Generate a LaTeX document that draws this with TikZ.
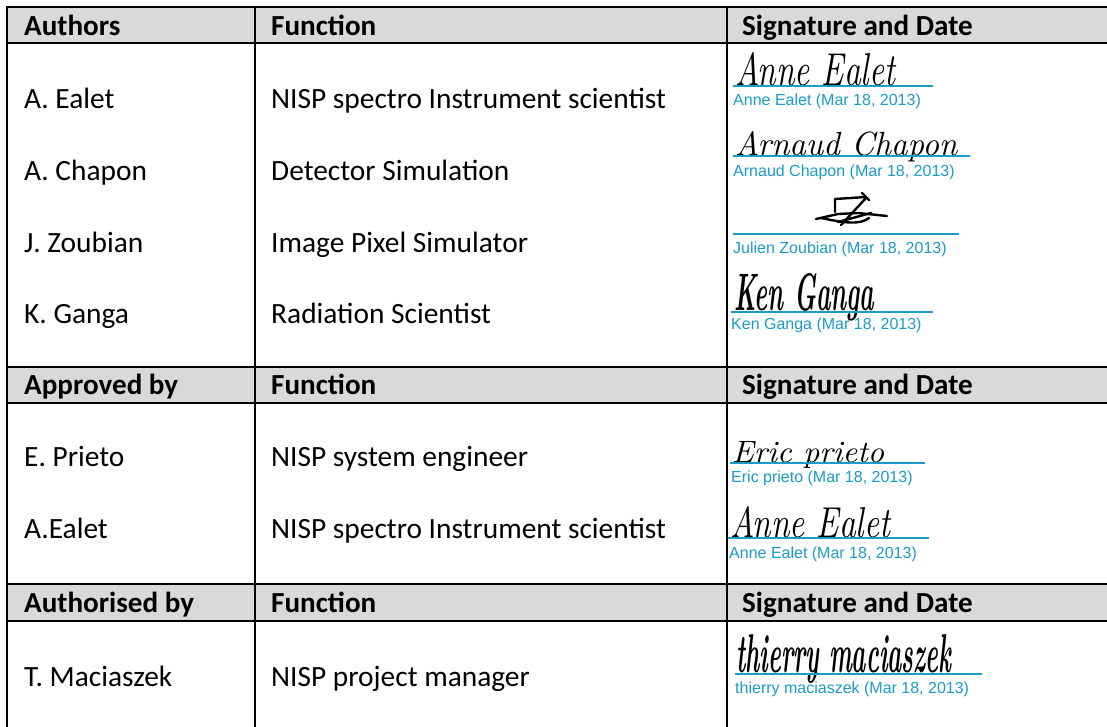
\documentclass[tikz,border=0pt]{standalone}
\usepackage{fontspec}
\newfontfamily\calibri{Carlito}
\newfontfamily\arialf{Liberation Sans}
\definecolor{sigblue}{HTML}{1A9BCB}
\definecolor{hdrgrey}{HTML}{D9D9D9}
\begin{document}
\begin{tikzpicture}[x=1pt,y=-1pt,
  hdr/.style={anchor=base west, inner sep=0pt, font=\calibri\bfseries\fontsize{29.1}{34}\selectfont},
  cell/.style={anchor=base west, inner sep=0pt, font=\calibri\fontsize{29.4}{34}\selectfont},
  captxt/.style={anchor=base west, inner sep=0pt, text=sigblue, font=\arialf\fontsize{16}{19}\selectfont},
  sig/.style={anchor=base west, inner sep=0pt, font=\rmfamily\itshape},
  sigbold/.style={anchor=base west, inner sep=0pt, font=\rmfamily\bfseries\itshape},
  uline/.style={draw=sigblue, line width=2.5pt},
  grid/.style={line width=2pt},
  ink/.style={line width=2.4pt, line cap=round, line join=round}]
\useasboundingbox (0,0) rectangle (1107,726);
% header fills
\fill[hdrgrey] (7,7) rectangle (1107,43);
\fill[hdrgrey] (7,367) rectangle (1107,403);
\fill[hdrgrey] (7,584) rectangle (1107,621);
% grid
\foreach \yy in {7,43,367,403,584,621} \draw[grid] (6,\yy) -- (1108,\yy);
\foreach \xx in {7,255,727} \draw[grid] (\xx,6) -- (\xx,727);
% headers
\node[hdr] (h1a) at (24,35) {Authors};
\node[hdr] (h1b) at (271,35) {Function};
\node[hdr] (h1c) at (742,35) {Signature and Date};
\node[hdr] (h2a) at (24,394) {Approved by};
\node[hdr] (h2b) at (271,394) {Function};
\node[hdr] (h2c) at (742,394) {Signature and Date};
\node[hdr] (h3a) at (24,612) {Authorised by};
\node[hdr] (h3b) at (271,612) {Function};
\node[hdr] (h3c) at (742,612) {Signature and Date};
% cells
\node[cell] (n1) at (24,108) {A. Ealet};
\node[cell] (f1) at (271,108) {NISP spectro Instrument scientist};
\node[cell] (n2) at (24,180) {A. Chapon};
\node[cell] (f2) at (271,180) {Detector Simulation};
\node[cell] (n3) at (24,252) {J. Zoubian};
\node[cell] (f3) at (271,252) {Image Pixel Simulator};
\node[cell] (n4) at (24,323) {K. Ganga};
\node[cell] (f4) at (271,323) {Radiation Scientist};
\node[cell] (n5) at (24,466) {E. Prieto};
\node[cell] (f5) at (271,466) {NISP system engineer};
\node[cell] (n6) at (24,538) {A.Ealet};
\node[cell] (f6) at (271,538) {NISP spectro Instrument scientist};
\node[cell] (n7) at (24,686) {T. Maciaszek};
\node[cell] (f7) at (271,686) {NISP project manager};
% signatures (handwriting)
\node[sig] (s1) at (735,85) {\resizebox{160pt}{33pt}{Anne Ealet}};
\node[sig] (s2) at (735,155) {\resizebox{222pt}{24pt}{Arnaud Chapon}};
\draw[ink] (835,212) -- (835,199) -- (866,197);
\draw[ink] (862,193) -- (869,200);
\draw[ink] (866,198) -- (841,225);
\draw[ink] (816,219) -- (838,214) -- (858,213) -- (887,216);
\draw[ink] (821,218) .. controls (845,223) and (860,225) .. (869,218);
\draw[ink] (838,222) -- (871,213);
\node[sigbold] (s4) at (734,310) {\resizebox{140pt}{37pt}{Ken Ganga}};
\node[sig] (s5) at (732,462) {\resizebox{152pt}{21pt}{Eric prieto}};
\node[sig] (s6) at (730,537) {\resizebox{160pt}{31pt}{Anne Ealet}};
\node[sigbold] (s7) at (736,672) {\resizebox{215pt}{38pt}{thierry maciaszek}};
% underlines
\draw[uline] (733,86) -- (933,86);
\draw[uline] (733,156) -- (970,156);
\draw[uline] (733,234) -- (959,234);
\draw[uline] (731,312) -- (933,312);
\draw[uline] (730,463) -- (925,463);
\draw[uline] (728,538) -- (929,538);
\draw[uline] (735,674) -- (982,674);
% captions
\node[captxt] (c1) at (733,105) {Anne Ealet (Mar 18, 2013)};
\node[captxt] (c2) at (733,176) {Arnaud Chapon (Mar 18, 2013)};
\node[captxt] (c3) at (733,253) {Julien Zoubian (Mar 18, 2013)};
\node[captxt] (c4) at (731,329) {Ken Ganga (Mar 18, 2013)};
\node[captxt] (c5) at (731,482) {Eric prieto (Mar 18, 2013)};
\node[captxt] (c6) at (729,558) {Anne Ealet (Mar 18, 2013)};
\node[captxt] (c7) at (735,693) {thierry maciaszek (Mar 18, 2013)};
\end{tikzpicture}
\end{document}
